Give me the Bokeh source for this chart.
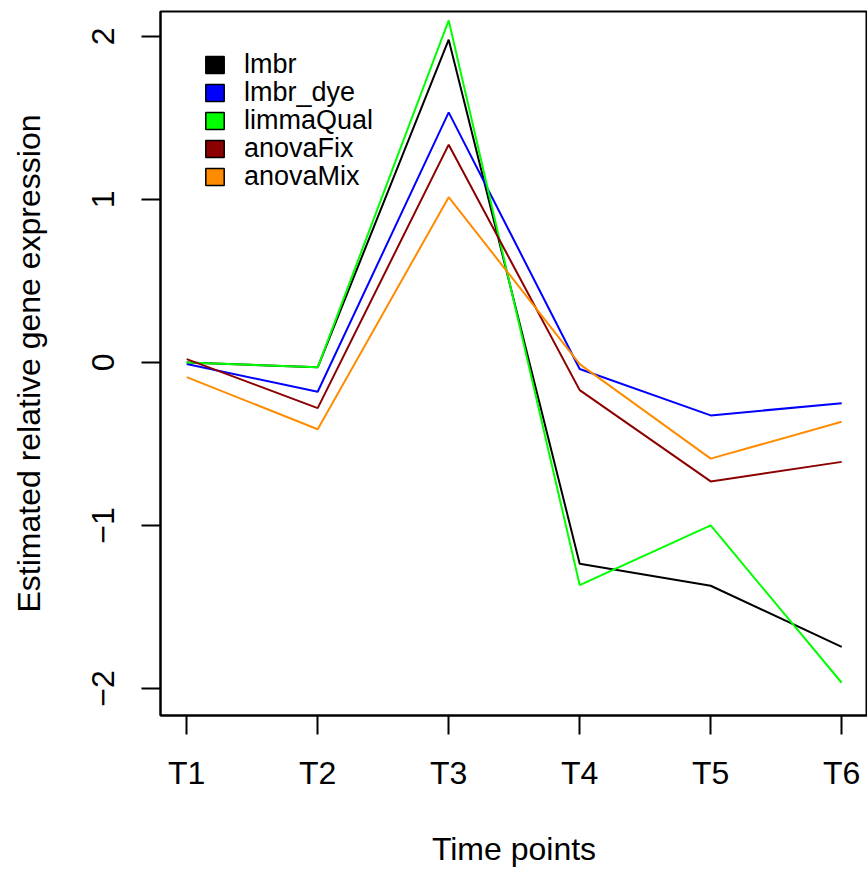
from bokeh.plotting import figure
from bokeh.models import Range1d, FixedTicker, Legend, LegendItem, ColumnDataSource
from bokeh.embed import file_html
from bokeh.resources import INLINE

# ---- data ----
time_points = [1, 2, 3, 4, 5, 6]
time_labels = ["T1", "T2", "T3", "T4", "T5", "T6"]
y_ticks = [-2, -1, 0, 1, 2]
y_tick_labels = ["\u22122", "\u22121", "0", "1", "2"]

series_names = ["lmbr", "lmbr_dye", "limmaQual", "anovaFix", "anovaMix"]
lmbr = [0.00, -0.03, 1.98, -1.235, -1.37, -1.745]
lmbr_dye = [-0.01, -0.18, 1.534, -0.04, -0.325, -0.25]
limmaQual = [0.00, -0.03, 2.098, -1.366, -1.00, -1.965]
anovaFix = [0.02, -0.28, 1.336, -0.17, -0.73, -0.61]
anovaMix = [-0.09, -0.41, 1.014, -0.01, -0.59, -0.364]
series_colors = ["#000000", "#0000FF", "#00FF00", "#8B0000", "#FF8C00"]

FONT = "Liberation Sans"
nan = float("nan")

p = figure(width=867, height=869, output_backend="svg", toolbar_location=None,
           x_range=Range1d(0.8, 6.197), y_range=Range1d(-2.166, 2.153),
           min_border_left=160, min_border_right=0, min_border_top=11,
           min_border_bottom=151)
p.grid.visible = False
p.outline_line_color = "black"
p.outline_line_width = 2
p.background_fill_color = "white"
p.border_fill_color = "white"

for name, vals, col in zip(series_names,
                           [lmbr, lmbr_dye, limmaQual, anovaFix, anovaMix],
                           series_colors):
    src = ColumnDataSource(dict(x=time_points, y=vals))
    p.line("x", "y", source=src, line_color=col, line_width=2)

# axes
p.xaxis.ticker = FixedTicker(ticks=time_points)
p.xaxis.major_label_overrides = {t: l for t, l in zip(time_points, time_labels)}
p.yaxis.ticker = FixedTicker(ticks=y_ticks)
p.yaxis.major_label_overrides = {t: l for t, l in zip(y_ticks, y_tick_labels)}
p.yaxis.major_label_orientation = "vertical"

for ax in (p.xaxis[0], p.yaxis[0]):
    ax.axis_line_width = 2
    ax.major_tick_line_width = 2
    ax.major_tick_out = 19
    ax.major_tick_in = 0
    ax.minor_tick_line_color = None
    ax.major_label_text_font = FONT
    ax.major_label_text_font_size = "32px"
    ax.major_label_text_color = "black"
    ax.axis_label_text_font = FONT
    ax.axis_label_text_font_size = "32px"
    ax.axis_label_text_font_style = "normal"
    ax.axis_label_text_color = "black"

p.xaxis.axis_label = "Time points"
p.yaxis.axis_label = "Estimated relative gene expression"
p.xaxis.major_label_standoff = 20
p.xaxis.axis_label_standoff = 37
p.yaxis.major_label_standoff = 27
p.yaxis.axis_label_standoff = 43

# legend with filled boxes: one single-item legend per row for exact row pitch
for i, (name, col) in enumerate(zip(series_names, series_colors)):
    r = p.quad(left=[nan], right=[nan], top=[nan], bottom=[nan], fill_color=col,
               line_color="black", line_width=1.5)
    leg = Legend(items=[LegendItem(label=name, renderers=[r])],
                 location=(43, 635 - 28 * i), orientation="vertical",
                 glyph_width=23, glyph_height=21, label_standoff=18,
                 label_text_font=FONT, label_text_font_size="27px",
                 label_text_color="black",
                 padding=0, margin=0,
                 border_line_color=None, background_fill_alpha=0)
    p.add_layout(leg, "center")

open("out.html", "w").write(file_html(p, INLINE))
